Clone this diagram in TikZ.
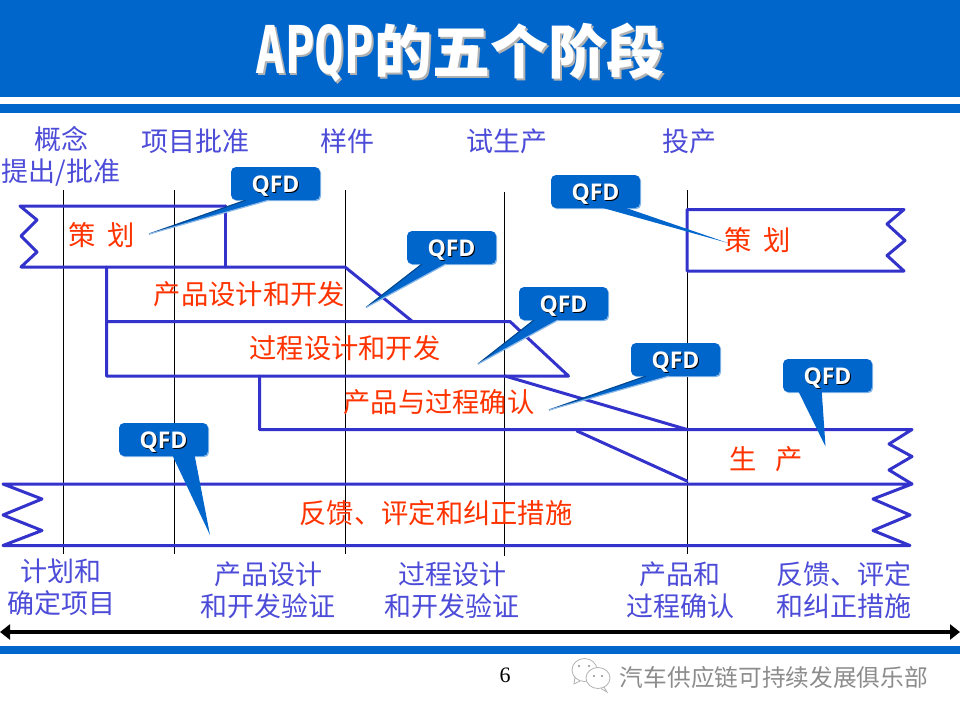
\documentclass[tikz,border=0pt]{standalone}
\usepackage{fontspec}
\setmainfont{Noto Sans CJK SC}
\newfontfamily\qfdfont{Open Sans}
\newfontfamily\titlelatin[FakeStretch=0.75]{DejaVu Sans Mono}
\newfontfamily\pagefont{Liberation Serif}
\usetikzlibrary{arrows.meta}
\definecolor{barblue}{HTML}{0066CC}
\definecolor{bandblue}{HTML}{3333CC}
\definecolor{phaseblue}{HTML}{4C4CD8}
\definecolor{stagered}{HTML}{FF3300}
\newcommand\withshadow[3]{\leavevmode\rlap{\raisebox{-#1}{\kern#1\textcolor{#2}{#3}}}#3}
\newcommand\qfdlabel{\raisebox{-8.5pt}[0pt][0pt]{\withshadow{1pt}{black}{QFD}}}
\tikzset{
  phase/.style={text=phaseblue, align=center, inner sep=0pt, font=\fontsize{27}{32}\selectfont},
  stage/.style={text=stagered, inner sep=0pt, font=\fontsize{27.3}{30}\selectfont},
  band/.style={draw=bandblue, line width=3pt, line join=round, line cap=round},
  gate/.style={draw=black, line width=1pt},
  qfd/.style={fill=barblue, rounded corners=5pt, minimum width=89pt, minimum height=33pt, inner sep=0pt, text=white,
    font=\qfdfont\bfseries\fontsize{23}{26}\selectfont,
    preaction={fill=barblue!45, transform canvas={shift={(1.2pt,-1.2pt)}}}},
  tailfill/.style={fill=barblue},
  taildark/.style={draw=barblue!70!black, line width=1.2pt},
  taillight/.style={draw=barblue!45, line width=1.2pt},
}
\begin{document}
\begin{tikzpicture}[x=1pt, y=-1pt]
    \useasboundingbox (0, 0) rectangle (960, 720);
    % bars
    \fill[barblue] (0, 0) rectangle (960, 97);
    \fill[barblue] (0, 104) rectangle (960, 113);
    \fill[barblue] (0, 646) rectangle (960, 654);
    \node (title) [text=white, inner sep=0pt, font=\bfseries\fontsize{58}{60}\selectfont] at (460, 54)
      {\withshadow{1.6pt}{black!30}{{\titlelatin\fontsize{66}{60}\selectfont APQP}的五个阶段}};
    % gates
    \draw[gate] (63.5, 190) -- (63.5, 554);
    \draw[gate] (174.5, 190) -- (174.5, 554);
    \draw[gate] (345.5, 190) -- (345.5, 554);
    \draw[gate] (504.5, 192) -- (504.5, 556);
    \draw[gate] (687.5, 190) -- (687.5, 554);
    % bands
    \draw[band] (225.5, 206) -- (20, 206) -- (37, 220) -- (21, 236) -- (37, 252) -- (21, 267) -- (345, 267) -- (412.5, 321.5);
    \draw[band] (225.5, 206) -- (225.5, 267);
    \draw[band] (106.5, 267) -- (106.5, 376) -- (568.5, 376) -- (510, 321.5) -- (106.5, 321.5);
    \draw[band] (904, 209.5) -- (687, 209.5) -- (687, 271) -- (904, 271) -- (887, 255.5) -- (905, 240.5) -- (887, 224) -- cycle;
    \draw[band] (505, 376) -- (687, 429.5);
    \draw[band] (259.5, 376) -- (259.5, 429.5) -- (912, 429.5) -- (889, 444) -- (912, 456.5) -- (889, 470) -- (912, 484);
    \draw[band] (577, 431) -- (687, 481);
    \draw[band] (912, 484) -- (3, 484) -- (42, 499) -- (3, 515) -- (42, 530.5) -- (3, 545.5) -- (910, 545.5) -- (873, 530.5) -- (910, 515) -- (873, 499) -- cycle;
    % phase names
    \node (concept) [phase] at (61, 156) {概念\\提出/批准};
    \node (approval) [phase] at (195, 141) {项目批准};
    \node (sample) [phase] at (347, 141) {样件};
    \node (trial) [phase] at (507, 141) {试生产};
    \node (launch) [phase] at (689, 141) {投产};
    \node (plan) [phase] at (61, 587) {计划和\\确定项目};
    \node (prodver) [phase] at (268, 590) {产品设计\\和开发验证};
    \node (procver) [phase] at (452, 590) {过程设计\\和开发验证};
    \node (valid) [phase] at (680, 590) {产品和\\过程确认};
    \node (correct) [phase] at (844, 590) {反馈、评定\\和纠正措施};
    % stage names
    \node (planL) [stage] at (101.5, 235) {策\hspace{12pt}划};
    \node (planR) [stage] at (757.5, 240) {策\hspace{12pt}划};
    \node (proddev) [stage] at (249.5, 294) {产品设计和开发};
    \node (procdev) [stage] at (345, 348) {过程设计和开发};
    \node (confirm) [stage] at (439, 402) {产品与过程确认};
    \node (make) [stage] at (766, 459) {生\hspace{18pt}产};
    \node (feedback) [stage] at (436, 513) {反馈、评定和纠正措施};
    % callouts
    \node (q1) [qfd] at (275.5, 183.5) {\qfdlabel};
    \node (q2) [qfd] at (451.5, 247.5) {\qfdlabel};
    \node (q3) [qfd] at (563.5, 303.5) {\qfdlabel};
    \node (q4) [qfd] at (675.5, 359.5) {\qfdlabel};
    \node (q5) [qfd] at (827.5, 375.5) {\qfdlabel};
    \node (q6) [qfd] at (163.5, 439.5) {\qfdlabel};
    \node (q7) [qfd] at (595.5, 191.5) {\qfdlabel};
    \coordinate (t1) at (149, 234);
    \coordinate (t2) at (366, 307.5);
    \coordinate (t3) at (478, 364);
    \coordinate (t4) at (549, 410);
    \coordinate (t5) at (825.5, 446.5);
    \coordinate (t6) at (210, 535);
    \coordinate (t7) at (728, 243);
    \fill[tailfill] ([xshift=15pt]q1.south west) -- ([xshift=38pt]q1.south west) -- (t1) -- cycle;
    \draw[taildark] ([xshift=15pt]q1.south west) -- (t1);
    \draw[taillight] ([xshift=38pt]q1.south west) -- (t1);
    \fill[tailfill] ([xshift=15pt]q2.south west) -- ([xshift=39pt]q2.south west) -- (t2) -- cycle;
    \draw[taildark] ([xshift=15pt]q2.south west) -- (t2);
    \draw[taillight] ([xshift=39pt]q2.south west) -- (t2);
    \fill[tailfill] ([xshift=15pt]q3.south west) -- ([xshift=39pt]q3.south west) -- (t3) -- cycle;
    \draw[taildark] ([xshift=15pt]q3.south west) -- (t3);
    \draw[taillight] ([xshift=39pt]q3.south west) -- (t3);
    \fill[tailfill] ([xshift=15pt]q4.south west) -- ([xshift=38pt]q4.south west) -- (t4) -- cycle;
    \draw[taildark] ([xshift=15pt]q4.south west) -- (t4);
    \draw[taillight] ([xshift=38pt]q4.south west) -- (t4);
    \fill[tailfill] ([xshift=16pt]q5.south west) -- ([xshift=39pt]q5.south west) -- (t5) -- cycle;
    \fill[tailfill] ([xshift=54pt]q6.south west) -- ([xshift=76pt]q6.south west) -- (t6) -- cycle;
    \fill[tailfill] ([xshift=53pt]q7.south west) -- ([xshift=76pt]q7.south west) -- (t7) -- cycle;
    % timeline
    \coordinate (startL) at (0, 632);
    \coordinate (endR) at (960, 632);
    \draw[{Triangle[length=10pt,width=15pt]}-{Triangle[length=10pt,width=15pt]}, line width=4pt, black] (startL) -- (endR);
    % footer
    \node (page) [inner sep=0pt, font=\pagefont\fontsize{22}{24}\selectfont] at (505, 675) {6};
    \node (mark) [inner sep=0pt, text=black!45, font=\fontsize{23.7}{26}\selectfont] at (774, 677) {汽车供应链可持续发展俱乐部};
    \draw[black!30, line width=0.8pt, fill=white] (584.5, 670) ellipse (12.5 and 11.5);
    \draw[black!30, line width=0.8pt] (575, 677) -- (574, 684) -- (580, 681);
    \draw[black!30, line width=0.8pt, fill=white] (598, 678) ellipse (12 and 10.5);
    \draw[black!30, line width=0.8pt] (604, 687) -- (607, 692) -- (601, 688.5);
    \fill[black!45] (579, 666) circle (1.2);
    \fill[black!45] (589, 666) circle (1.2);
    \fill[black!45] (594, 676) circle (1.2);
    \fill[black!45] (602, 676) circle (1.2);
  \end{tikzpicture}
\end{document}
